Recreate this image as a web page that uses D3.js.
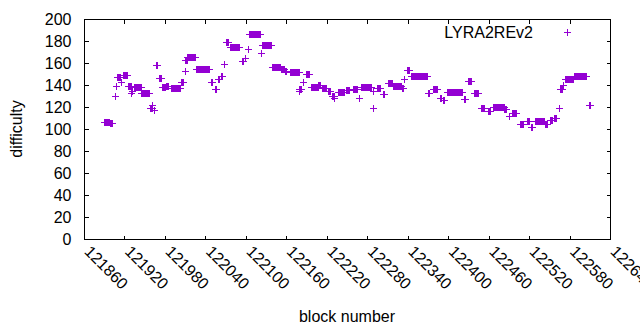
<!DOCTYPE html>
<html>
<head>
<meta charset="utf-8">
<script src="https://cdn.jsdelivr.net/npm/d3@7"></script>
<style>
  body { margin: 0; background: #fff; }
  svg text { font-family: "Liberation Sans", Arial, sans-serif; font-size: 16px; fill: #000; }
</style>
</head>
<body>
<svg id="chart" width="640" height="330"></svg>
<script>
// runs of blocks with the same difficulty: [first block, last block, difficulty]
var runs = [
  [121891,121898,106], [121899,121903,105], [121906,121907,130], [121908,121908,139],
  [121910,121914,147], [121916,121916,142], [121919,121924,149], [121926,121930,139],
  [121931,121931,132], [121932,121932,134], [121935,121945,138], [121946,121957,132],
  [121958,121962,119], [121961,121961,121], [121965,121965,117], [121967,121969,158],
  [121972,121975,146], [121977,121981,138], [121982,121985,139], [121990,122003,137],
  [122005,122008,142], [122011,122011,152], [122011,122013,162], [122014,122025,165],
  [122027,122046,154], [122049,122051,142], [122055,122056,136], [122060,122061,145],
  [122064,122066,148], [122068,122068,159], [122072,122074,179], [122077,122091,174],
  [122095,122096,161], [122099,122100,164], [122104,122104,172], [122105,122121,186],
  [122123,122123,169], [122125,122138,176], [122140,122151,156], [122153,122157,154],
  [122159,122161,152], [122166,122179,151], [122179,122179,134], [122180,122183,136],
  [122186,122186,142], [122190,122194,150], [122197,122207,138], [122208,122211,140],
  [122214,122219,137], [122222,122225,134], [122228,122232,130], [122231,122231,128],
  [122237,122246,133], [122249,122253,135], [122260,122266,136], [122268,122268,128],
  [122271,122287,138], [122289,122289,119], [122289,122290,134], [122295,122300,137],
  [122304,122306,131], [122312,122317,141], [122319,122331,139], [122332,122334,137],
  [122336,122336,145], [122339,122342,153], [122346,122369,148], [122371,122373,132],
  [122379,122384,136], [122389,122390,128], [122393,122394,126], [122399,122421,133],
  [122424,122426,127], [122430,122435,143], [122439,122445,132], [122450,122454,119],
  [122460,122463,116], [122467,122483,120], [122484,122486,118], [122491,122491,111],
  [122496,122501,114], [122507,122512,104], [122517,122520,107], [122524,122525,101],
  [122530,122543,107], [122545,122547,104], [122552,122555,108], [122557,122560,110],
  [122565,122565,119], [122567,122569,136], [122571,122571,140], [122574,122586,145],
  [122587,122605,148], [122609,122611,121]
];

var xTicks = [121860,121920,121980,122040,122100,122160,122220,122280,122340,122400,122460,122520,122580,122640];
var yTicks = [0,20,40,60,80,100,120,140,160,180,200];
var seriesName = "LYRA2REv2";

var margin = {left: 84, right: 30, top: 19, bottom: 91};
var width = 640, height = 330;
var color = "#9400d3";
var r = 3.5; // half size of the "+" marker

var svg = d3.select("#chart");

var x = d3.scaleLinear().domain([121860, 122640]).range([margin.left, width - margin.right]);
var y = d3.scaleLinear().domain([0, 200]).range([height - margin.bottom, margin.top]);

// Border box
svg.append("rect")
    .attr("x", margin.left + 0.5)
    .attr("y", margin.top + 0.5)
    .attr("width", width - margin.right - margin.left)
    .attr("height", height - margin.bottom - margin.top)
    .attr("fill", "none")
    .attr("stroke", "#000")
    .attr("stroke-width", 1)
    .attr("shape-rendering", "crispEdges");

// Axes (ticks point inwards, mirrored on top and right)
var yAxis = svg.append("g")
    .attr("transform", "translate(" + (margin.left + 0.5) + ",0)")
    .call(d3.axisLeft(y).tickValues(yTicks).tickSize(-4).tickPadding(13));
var yAxisR = svg.append("g")
    .attr("transform", "translate(" + (width - margin.right + 0.5) + ",0)")
    .call(d3.axisRight(y).tickValues(yTicks).tickSize(-4).tickFormat(""));
var xAxis = svg.append("g")
    .attr("transform", "translate(0," + (height - margin.bottom + 0.5) + ")")
    .call(d3.axisBottom(x).tickValues(xTicks).tickSize(-4).tickFormat(d3.format("d")));
var xAxisT = svg.append("g")
    .attr("transform", "translate(0," + (margin.top + 0.5) + ")")
    .call(d3.axisTop(x).tickValues(xTicks).tickSize(-4).tickFormat(""));

[yAxis, yAxisR, xAxis, xAxisT].forEach(function(g) {
    g.select(".domain").remove();
    g.selectAll("line").attr("stroke", "#000").attr("shape-rendering", "crispEdges");
    g.selectAll("text").attr("font-size", null).attr("font-family", null);
});

// rotated x labels
xAxis.selectAll("text")
    .attr("x", 0)
    .attr("y", 0)
    .attr("dy", "0.35em")
    .attr("text-anchor", "start")
    .attr("transform", "translate(3,9) rotate(45)");

// Axis titles
svg.append("text")
    .text("difficulty")
    .attr("text-anchor", "middle")
    .attr("transform", "translate(22," + ((margin.top + height - margin.bottom) / 2) + ") rotate(-90)");
svg.append("text")
    .text("block number")
    .attr("text-anchor", "middle")
    .attr("x", (margin.left + width - margin.right) / 2)
    .attr("y", 322);

// Points: each run is a row of "+" markers
var marks = svg.append("g").attr("shape-rendering", "crispEdges");
var runG = marks.selectAll("g.run")
    .data(runs)
    .enter().append("g")
    .attr("class", "run");
runG.append("line")
    .attr("x1", function(d) { return x(d[0]) - r; })
    .attr("x2", function(d) { return x(d[1]) + r; })
    .attr("y1", function(d) { return y(d[2]); })
    .attr("y2", function(d) { return y(d[2]); })
    .attr("stroke", color)
    .attr("stroke-width", 1);
runG.append("rect")
    .attr("x", function(d) { return x(d[0]) - 0.5; })
    .attr("width", function(d) { return x(d[1]) - x(d[0]) + 1; })
    .attr("y", function(d) { return y(d[2]) - r; })
    .attr("height", 2 * r)
    .attr("fill", color);

// Legend
var legend = svg.append("g").attr("transform", "translate(0,32)");
legend.append("text")
    .text(seriesName)
    .attr("x", 533)
    .attr("dy", "0.35em")
    .attr("text-anchor", "end");
legend.append("line")
    .attr("x1", 567 - r).attr("x2", 567 + r)
    .attr("y1", 0).attr("y2", 0)
    .attr("stroke", color).attr("shape-rendering", "crispEdges");
legend.append("line")
    .attr("x1", 567).attr("x2", 567)
    .attr("y1", -r).attr("y2", r)
    .attr("stroke", color).attr("shape-rendering", "crispEdges");
</script>
</body>
</html>
